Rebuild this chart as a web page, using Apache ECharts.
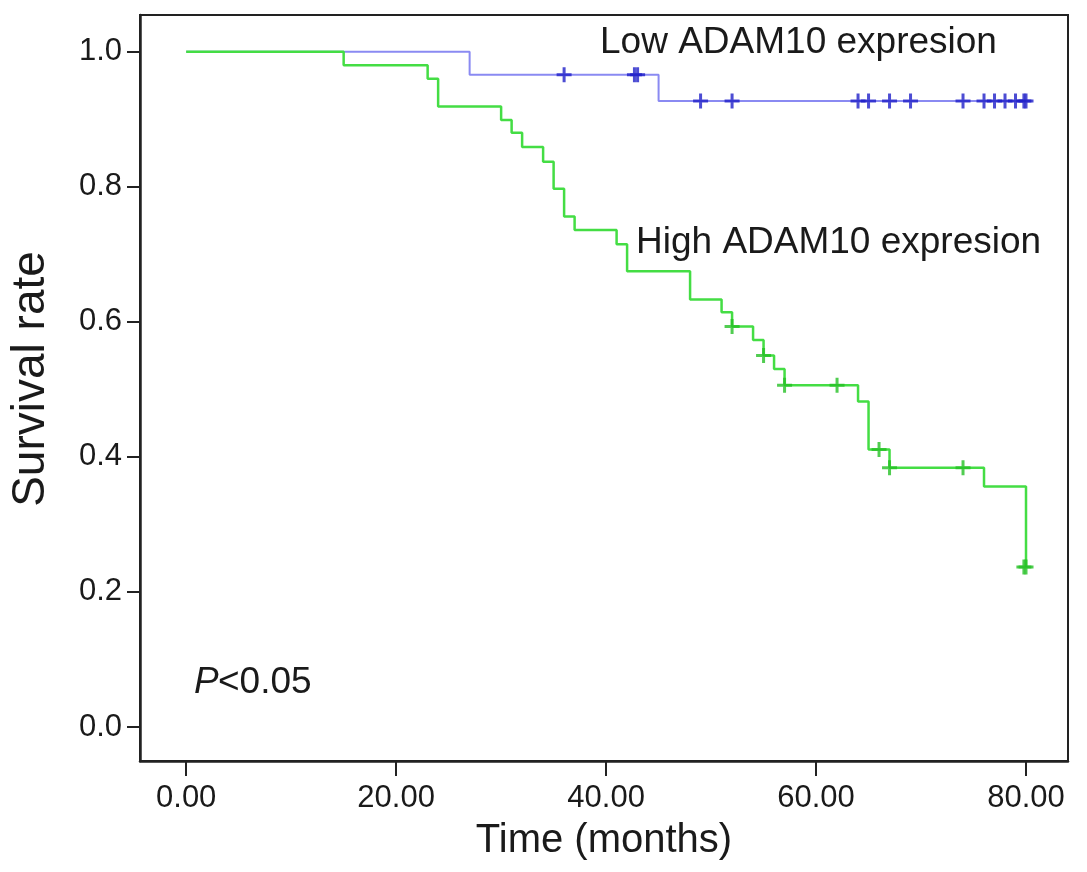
<!DOCTYPE html>
<html>
<head>
<meta charset="utf-8">
<script src="https://cdn.jsdelivr.net/npm/echarts@6/dist/echarts.min.js"></script>
<style>
html,body{margin:0;padding:0;background:#fff;}
#c{width:1087px;height:872px;}
</style>
</head>
<body>
<div id="c"></div>
<script>
// ---- data ----
const xTicks = [0, 20, 40, 60, 80];
const yTicks = [0, 0.2, 0.4, 0.6, 0.8, 1.0];

const lowTimes = [0, 27, 45, 80];
const lowSurv  = [1.0, 0.966, 0.927, 0.927];
const lowCensorTimes = [36, 42.7, 43, 49, 52, 64, 65, 67, 69, 74, 76, 77, 78, 79, 79.8, 80];
const lowCensorSurv  = [0.966, 0.966, 0.966, 0.927, 0.927, 0.927, 0.927, 0.927, 0.927, 0.927, 0.927, 0.927, 0.927, 0.927, 0.927, 0.927];

const highTimes = [0, 15, 23, 24, 30, 31, 32, 34, 35, 36, 37, 41, 42, 48, 51, 52, 54, 55, 56, 57, 64, 65, 67, 76, 80];
const highSurv  = [1.0, 0.980, 0.960, 0.919, 0.899, 0.880, 0.859, 0.837, 0.797, 0.756, 0.736, 0.715, 0.675, 0.633, 0.614, 0.593, 0.573, 0.550, 0.530, 0.506, 0.482, 0.411, 0.384, 0.356, 0.237];
const highCensorTimes = [52, 55, 57, 62, 66, 67, 74, 79.8, 80];
const highCensorSurv  = [0.593, 0.550, 0.506, 0.506, 0.411, 0.384, 0.384, 0.237, 0.237];

const labelLow = 'Low ADAM10 expresion';
const labelHigh = 'High ADAM10 expresion';
const xTitle = 'Time (months)';
const yTitle = 'Survival rate';
const pText = '<0.05';

// ---- build ----
const zip = (a, b) => a.map((v, i) => [v, b[i]]);
const FONT = "'Liberation Sans', Arial, sans-serif";
const plus = 'path://M-1.4,-7H1.4V-1.4H7V1.4H1.4V7H-1.4V1.4H-7V-1.4H-1.4Z';

const chart = echarts.init(document.getElementById('c'), null, {renderer: 'canvas'});
chart.setOption({
  animation: false,
  backgroundColor: '#fff',
  grid: {left: 140, right: 19, top: 15, bottom: 111, show: true, borderColor: '#222', borderWidth: 2, backgroundColor: 'transparent'},
  xAxis: {
    type: 'value', min: -4.4, max: 84.0,
    axisLine: {show: true, onZero: false, lineStyle: {color: '#222', width: 2.5}},
    axisTick: {show: true, customValues: xTicks, length: 15, lineStyle: {color: '#222', width: 2}},
    axisLabel: {customValues: xTicks, formatter: v => v.toFixed(2), fontFamily: FONT, fontSize: 31, color: '#1a1a1a', margin: 22},
    splitLine: {show: false},
    name: xTitle, nameLocation: 'middle', nameGap: 60,
    nameTextStyle: {fontFamily: FONT, fontSize: 40, color: '#1a1a1a'}
  },
  yAxis: {
    type: 'value', min: -0.0504, max: 1.0544,
    axisLine: {show: true, onZero: false, lineStyle: {color: '#222', width: 2.5}},
    axisTick: {show: true, customValues: yTicks, length: 13, lineStyle: {color: '#222', width: 2}},
    axisLabel: {customValues: yTicks, formatter: v => v.toFixed(1), fontFamily: FONT, fontSize: 31, color: '#1a1a1a', margin: 18},
    splitLine: {show: false}
  },
  series: [
    {type: 'line', step: 'end', data: zip(lowTimes, lowSurv), showSymbol: false, lineStyle: {color: '#8a8af2', width: 2}, z: 2},
    {type: 'line', step: 'end', data: zip(highTimes, highSurv), showSymbol: false, lineStyle: {color: '#44dd44', width: 2.5}, z: 3},
    {type: 'scatter', data: zip(lowCensorTimes, lowCensorSurv), symbol: plus, symbolSize: 15, itemStyle: {color: '#1f1fc8'}, z: 4},
    {type: 'scatter', data: zip(highCensorTimes, highCensorSurv), symbol: plus, symbolSize: 15, itemStyle: {color: '#26c026'}, z: 4}
  ],
  graphic: [
    {type: 'text', x: 31, y: 379, rotation: Math.PI / 2, style: {text: yTitle, font: '46px ' + FONT, fill: '#1a1a1a', textAlign: 'center', textVerticalAlign: 'middle', align: 'center', verticalAlign: 'middle'}},
    {type: 'text', left: 600, top: 24, style: {text: labelLow, font: '37px ' + FONT, fill: '#1a1a1a'}},
    {type: 'text', left: 636, top: 224, style: {text: labelHigh, font: '37px ' + FONT, fill: '#1a1a1a'}},
    {type: 'text', left: 194, top: 664, style: {text: 'P', font: 'italic 37px ' + FONT, fill: '#1a1a1a'}},
    {type: 'text', left: 218, top: 664, style: {text: pText, font: '37px ' + FONT, fill: '#1a1a1a'}}
  ]
});
</script>
</body>
</html>
